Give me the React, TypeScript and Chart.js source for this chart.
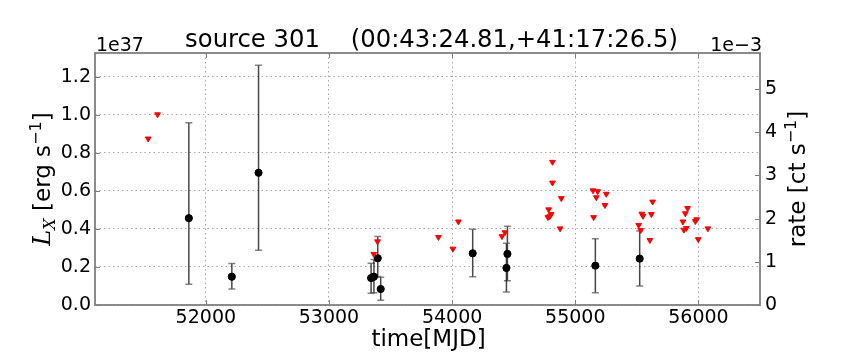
import React, { useEffect, useRef } from "react";
import { Chart, registerables } from "chart.js";

Chart.register(...registerables);

// ---------- text ----------
const TITLE = "source 301    (00:43:24.81,+41:17:26.5)";
const X_LABEL = "time[MJD]";
const LEFT_OFFSET_TEXT = "1e37";
const RIGHT_OFFSET_TEXT = "1e\u22123";

// ---------- axes ----------
const X_MIN = 51100;
const X_MAX = 56500;
const LUM_MAX = 1.326;
const RATE_MAX = 5.833;
const X_TICKS = [52000, 53000, 54000, 55000, 56000];
const LUM_TICKS = [0.0, 0.2, 0.4, 0.6, 0.8, 1.0, 1.2];
const RATE_TICKS = [0, 1, 2, 3, 4, 5];

// ---------- detections (luminosity, 1e37 erg/s) ----------
const detMJD = [51862, 52211, 52428, 53342, 53365, 53396, 53420, 54167, 54449, 54441, 55163, 55523];
const detLum = [0.457, 0.149, 0.696, 0.142, 0.149, 0.246, 0.084, 0.272, 0.269, 0.195, 0.207, 0.244];
const detLumLo = [0.109, 0.084, 0.288, 0.062, 0.065, 0.15, 0.025, 0.148, 0.128, 0.069, 0.065, 0.10];
const detLumHi = [0.959, 0.218, 1.261, 0.22, 0.24, 0.36, 0.146, 0.399, 0.415, 0.325, 0.349, 0.39];

// ---------- upper limits (count rate, 1e-3 ct/s) ----------
const ulMJD = [
  51532, 51608, 53364, 53394, 53889, 54006, 54051, 54405, 54429,
  54778, 54784, 54792, 54804, 54815, 54815, 54877, 54887,
  55144, 55149, 55171, 55182, 55241, 55252,
  55515, 55531, 55541, 55550, 55606, 55618, 55628,
  55874, 55882, 55894, 55902, 55912, 55975, 55985, 55999, 56077,
];
const ulRate = [
  3.85, 4.41, 1.18, 1.47, 1.57, 1.30, 1.93, 1.59, 1.68,
  2.03, 2.21, 2.05, 2.10, 3.31, 2.83, 1.77, 2.47,
  2.65, 2.03, 2.49, 2.63, 2.31, 2.57,
  1.85, 1.73, 2.11, 2.06, 1.50, 2.10, 2.39,
  1.93, 1.74, 2.12, 1.78, 2.24, 1.94, 1.98, 1.52, 1.77,
];

const SANS = '"DejaVu Sans", "Bitstream Vera Sans", sans-serif';
const SERIF = '"DejaVu Serif", serif';
const SPINE = "#7f7f7f";

type Part = { text: string; font: string; dy: number };

function drawParts(ctx: CanvasRenderingContext2D, parts: Part[], cx: number, cy: number, rot: number) {
  ctx.save();
  ctx.translate(cx, cy);
  ctx.rotate(rot);
  ctx.textBaseline = "alphabetic";
  ctx.textAlign = "left";
  let total = 0;
  const widths = parts.map((p) => {
    ctx.font = p.font;
    const w = ctx.measureText(p.text).width;
    total += w;
    return w;
  });
  let x = -total / 2;
  parts.forEach((p, i) => {
    ctx.font = p.font;
    ctx.fillStyle = "#000";
    ctx.fillText(p.text, x, p.dy);
    x += widths[i];
  });
  ctx.restore();
}

const overlay = {
  id: "overlay",
  beforeDatasetsDraw(chart: any) {
    const ctx: CanvasRenderingContext2D = chart.ctx;
    const xs = chart.scales.x;
    const ys = chart.scales.y;
    ctx.save();
    for (let i = 0; i < detMJD.length; i++) {
      const px = xs.getPixelForValue(detMJD[i]);
      const top = ys.getPixelForValue(detLumHi[i]);
      const bot = ys.getPixelForValue(detLumLo[i]);
      ctx.strokeStyle = "rgba(0,0,0,0.72)";
      ctx.lineWidth = 1.5;
      ctx.beginPath();
      ctx.moveTo(px, top);
      ctx.lineTo(px, bot);
      ctx.stroke();
      ctx.strokeStyle = "rgba(90,90,90,0.75)";
      ctx.lineWidth = 1.5;
      ctx.beginPath();
      ctx.moveTo(px - 3.5, top);
      ctx.lineTo(px + 3.5, top);
      ctx.moveTo(px - 3.5, bot);
      ctx.lineTo(px + 3.5, bot);
      ctx.stroke();
    }
    ctx.restore();
  },
  afterDraw(chart: any) {
    const ctx: CanvasRenderingContext2D = chart.ctx;
    const a = chart.chartArea;
    const xs = chart.scales.x;
    const ys = chart.scales.y;
    const y1 = chart.scales.y1;
    ctx.save();
    // inward ticks
    ctx.strokeStyle = SPINE;
    ctx.lineWidth = 1;
    ctx.beginPath();
    X_TICKS.forEach((v) => {
      const p = Math.round(xs.getPixelForValue(v)) + 0.5;
      ctx.moveTo(p, a.bottom);
      ctx.lineTo(p, a.bottom - 5);
      ctx.moveTo(p, a.top);
      ctx.lineTo(p, a.top + 5);
    });
    LUM_TICKS.forEach((v) => {
      const p = Math.round(ys.getPixelForValue(v)) + 0.5;
      ctx.moveTo(a.left, p);
      ctx.lineTo(a.left + 5, p);
    });
    RATE_TICKS.forEach((v) => {
      const p = Math.round(y1.getPixelForValue(v)) + 0.5;
      ctx.moveTo(a.right, p);
      ctx.lineTo(a.right - 5, p);
    });
    ctx.stroke();
    // spines
    ctx.strokeStyle = SPINE;
    ctx.lineWidth = 1.8;
    ctx.strokeRect(a.left, a.top, a.right - a.left, a.bottom - a.top);

    // title
    ctx.fillStyle = "#000";
    ctx.font = `24.3px ${SANS}`;
    ctx.textAlign = "center";
    ctx.textBaseline = "alphabetic";
    ctx.fillText(TITLE, (a.left + a.right) / 2 + 4, 46.5);
    // offset texts
    ctx.font = `19px ${SANS}`;
    ctx.textAlign = "left";
    ctx.fillText(LEFT_OFFSET_TEXT, a.left + 1, 50.5);
    ctx.textAlign = "right";
    ctx.fillText(RIGHT_OFFSET_TEXT, a.right + 2, 51);
    // x label
    ctx.font = `23px ${SANS}`;
    ctx.textAlign = "center";
    ctx.fillText(X_LABEL, (a.left + a.right) / 2 + 1, 346);
    ctx.restore();

    const cy = (a.top + a.bottom) / 2;
    drawParts(
      ctx,
      [
        { text: "L", font: `italic 24px ${SERIF}`, dy: 0 },
        { text: "X", font: `italic 16px ${SERIF}`, dy: 5 },
        { text: " [erg s", font: `23px ${SANS}`, dy: 0 },
        { text: "\u22121", font: `16px ${SANS}`, dy: -9 },
        { text: "]", font: `23px ${SANS}`, dy: 0 },
      ],
      50,
      cy,
      -Math.PI / 2
    );
    drawParts(
      ctx,
      [
        { text: "rate [ct s", font: `23px ${SANS}`, dy: 0 },
        { text: "\u22121", font: `16px ${SANS}`, dy: -9 },
        { text: "]", font: `23px ${SANS}`, dy: 0 },
      ],
      805,
      cy,
      -Math.PI / 2
    );
  },
};

export default function App() {
  const ref = useRef<HTMLCanvasElement>(null);
  useEffect(() => {
    const tickFont = { family: SANS, size: 19 };
    const chart = new Chart(ref.current as HTMLCanvasElement, {
      type: "scatter",
      data: {
        datasets: [
          {
            label: "upper limits",
            data: ulMJD.map((x, i) => ({ x, y: ulRate[i] })),
            yAxisID: "y1",
            pointStyle: "triangle",
            rotation: 180,
            pointRadius: 3.3,
            backgroundColor: "#ff0000",
            borderColor: "#ff0000",
            borderWidth: 1,
          },
          {
            label: "detections",
            data: detMJD.map((x, i) => ({ x, y: detLum[i] })),
            yAxisID: "y",
            pointStyle: "circle",
            pointRadius: 3.6,
            backgroundColor: "#000000",
            borderColor: "#000000",
            borderWidth: 1,
          },
        ],
      },
      options: {
        animation: false,
        responsive: false,
        devicePixelRatio: 1,
        layout: { padding: { top: 53, left: 0, right: 0, bottom: 0 } },
        plugins: {
          legend: { display: false },
          tooltip: { enabled: false },
          title: { display: false },
        },
        scales: {
          x: {
            type: "linear",
            position: "bottom",
            min: X_MIN,
            max: X_MAX,
            afterBuildTicks: (s: any) => {
              s.ticks = X_TICKS.map((v) => ({ value: v }));
            },
            afterFit: (s: any) => {
              s.height = 55;
            },
            grid: { color: "#a8a8a8", lineWidth: 1, drawTicks: false },
            border: { display: false, dash: [1.5, 3] },
            ticks: {
              font: tickFont,
              color: "#000",
              padding: 2,
              maxRotation: 0,
              autoSkip: false,
              callback: (v: any) => String(v),
            },
          },
          y: {
            type: "linear",
            position: "left",
            min: 0,
            max: LUM_MAX,
            afterBuildTicks: (s: any) => {
              s.ticks = LUM_TICKS.map((v) => ({ value: v }));
            },
            afterFit: (s: any) => {
              s.width = 95;
            },
            grid: { color: "#a8a8a8", lineWidth: 1, drawTicks: false },
            border: { display: false, dash: [1.5, 3] },
            ticks: {
              font: tickFont,
              color: "#000",
              padding: 4,
              autoSkip: false,
              callback: (v: any) => Number(v).toFixed(1),
            },
          },
          y1: {
            type: "linear",
            position: "right",
            min: 0,
            max: RATE_MAX,
            afterBuildTicks: (s: any) => {
              s.ticks = RATE_TICKS.map((v) => ({ value: v }));
            },
            afterFit: (s: any) => {
              s.width = 104;
            },
            grid: { drawOnChartArea: false, drawTicks: false },
            border: { display: false },
            ticks: {
              font: tickFont,
              color: "#000",
              padding: 5,
              autoSkip: false,
              callback: (v: any) => String(v),
            },
          },
        },
      },
      plugins: [overlay],
    });
    return () => chart.destroy();
  }, []);
  return (
    <div style={{ position: "fixed", left: 0, top: 0, width: 864, height: 360, background: "#fff" }}>
      <canvas ref={ref} width={864} height={360} style={{ display: "block" }} />
    </div>
  );
}
